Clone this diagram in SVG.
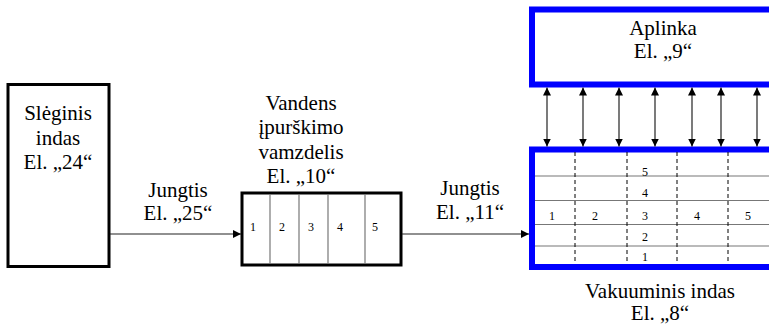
<svg xmlns="http://www.w3.org/2000/svg" width="769" height="324" viewBox="0 0 769 324" font-family="'Liberation Serif', 'DejaVu Serif', serif">
  <style>
    text { font-family: 'Liberation Serif', 'Times New Roman', 'DejaVu Serif', serif; fill: #000; text-anchor: middle; }
    .lbl { font-size: 21px; }
    .num { font-size: 12px; }
    .box { fill: #fff; stroke: #000; stroke-width: 3; }
    .blue { fill: #fff; stroke: #0000ff; stroke-width: 6; }
    .cell { stroke: #777; stroke-width: 1.2; fill: none; }
    .dash { stroke: #000; stroke-width: 1; stroke-dasharray: 4 3; fill: none; }
    .conn { stroke: #222; stroke-width: 1.2; fill: none; }
  </style>
  <defs>
    <marker id="head" viewBox="0 0 10 10" refX="10" refY="5" markerWidth="8" markerHeight="8" markerUnits="userSpaceOnUse" orient="auto-start-reverse">
      <path d="M0,0 L10,5 L0,10 z" fill="#000"/>
    </marker>
  </defs>

  <!-- pressure vessel -->
  <g id="node-24">
    <rect class="box" x="8" y="84.5" width="101" height="182"/>
    <text class="lbl" x="58" y="120">Slėginis</text>
    <text class="lbl" x="58" y="145">indas</text>
    <text class="lbl" x="58" y="169">El. „24“</text>
  </g>

  <!-- water injection pipe -->
  <g id="node-10">
    <text class="lbl" x="301" y="110">Vandens</text>
    <text class="lbl" x="301" y="134">įpurškimo</text>
    <text class="lbl" x="301" y="159">vamzdelis</text>
    <text class="lbl" x="301" y="183">El. „10“</text>
    <rect class="box" x="242" y="193" width="159" height="72" stroke-width="2.5"/>
    <line class="cell" x1="270" y1="194" x2="270" y2="264"/>
    <line class="cell" x1="299" y1="194" x2="299" y2="264"/>
    <line class="cell" x1="328" y1="194" x2="328" y2="264"/>
    <line class="cell" x1="365" y1="194" x2="365" y2="264"/>
    <text class="num" x="253" y="231">1</text>
    <text class="num" x="282" y="231">2</text>
    <text class="num" x="311" y="231">3</text>
    <text class="num" x="340" y="231">4</text>
    <text class="num" x="375" y="231">5</text>
  </g>

  <!-- surroundings -->
  <g id="node-9">
    <rect class="blue" x="532" y="9.5" width="240" height="75"/>
    <text class="lbl" x="663" y="35">Aplinka</text>
    <text class="lbl" x="663" y="58">El. „9“</text>
  </g>

  <!-- vacuum vessel -->
  <g id="node-8">
    <rect class="blue" x="532" y="149.5" width="250" height="117.5"/>
    <line class="cell" x1="535" y1="176" x2="769" y2="176"/>
    <line class="cell" x1="535" y1="200.5" x2="769" y2="200.5"/>
    <line class="cell" x1="535" y1="224.5" x2="769" y2="224.5"/>
    <line class="cell" x1="535" y1="246" x2="769" y2="246"/>
    <line class="dash" x1="575" y1="152" x2="575" y2="264"/>
    <line class="dash" x1="627" y1="152" x2="627" y2="264"/>
    <line class="dash" x1="677" y1="152" x2="677" y2="264"/>
    <line class="dash" x1="728" y1="152" x2="728" y2="264"/>
    <text class="num" x="552" y="220">1</text>
    <text class="num" x="595" y="220">2</text>
    <text class="num" x="645" y="220">3</text>
    <text class="num" x="697" y="220">4</text>
    <text class="num" x="748" y="220">5</text>
    <text class="num" x="645" y="176">5</text>
    <text class="num" x="645" y="197">4</text>
    <text class="num" x="645" y="241">2</text>
    <text class="num" x="645" y="261">1</text>
    <text class="lbl" x="660" y="298">Vakuuminis indas</text>
    <text class="lbl" x="660" y="320">El. „8“</text>
  </g>

  <!-- connectors -->
  <g id="connectors">
    <line class="conn" x1="110" y1="234" x2="241" y2="234" marker-end="url(#head)"/>
    <text class="lbl" x="178" y="197">Jungtis</text>
    <text class="lbl" x="178" y="220">El. „25“</text>
    <line class="conn" x1="402" y1="234" x2="529" y2="234" marker-end="url(#head)"/>
    <text class="lbl" x="470" y="195">Jungtis</text>
    <text class="lbl" x="470" y="219">El. „11“</text>
    <line class="conn" x1="547" y1="87.5" x2="547" y2="146.5" marker-start="url(#head)" marker-end="url(#head)"/>
    <line class="conn" x1="583" y1="87.5" x2="583" y2="146.5" marker-start="url(#head)" marker-end="url(#head)"/>
    <line class="conn" x1="619" y1="87.5" x2="619" y2="146.5" marker-start="url(#head)" marker-end="url(#head)"/>
    <line class="conn" x1="655" y1="87.5" x2="655" y2="146.5" marker-start="url(#head)" marker-end="url(#head)"/>
    <line class="conn" x1="692" y1="87.5" x2="692" y2="146.5" marker-start="url(#head)" marker-end="url(#head)"/>
    <line class="conn" x1="721" y1="87.5" x2="721" y2="146.5" marker-start="url(#head)" marker-end="url(#head)"/>
    <line class="conn" x1="757" y1="87.5" x2="757" y2="146.5" marker-start="url(#head)" marker-end="url(#head)"/>
  </g>
</svg>
